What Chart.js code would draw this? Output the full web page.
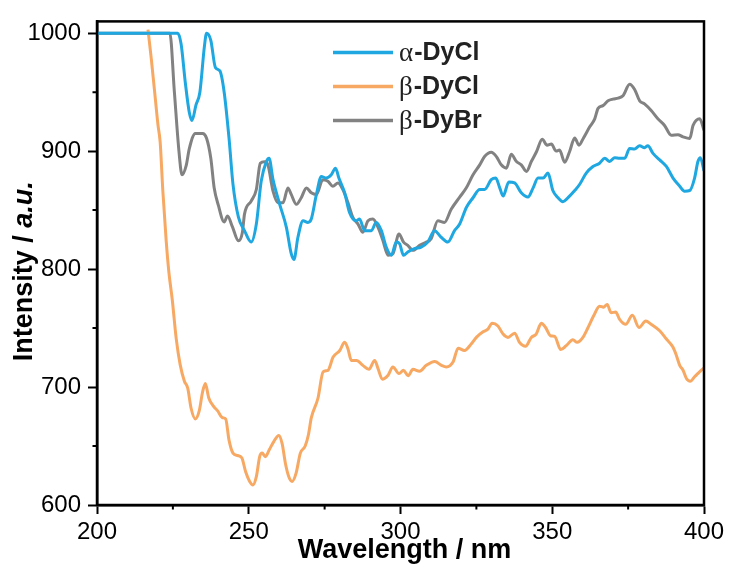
<!DOCTYPE html>
<html>
<head>
<meta charset="utf-8">
<script src="https://cdn.jsdelivr.net/npm/chart.js@4.4.0/dist/chart.umd.min.js"></script>
<style>
  html, body { margin: 0; padding: 0; background: #fff; }
  #wrap { width: 729px; height: 568px; }
</style>
</head>
<body>
<div id="wrap"><canvas id="uvChart" width="729" height="568"></canvas></div>
<script>
// tick values
const xMajorTicks = [200, 250, 300, 350, 400];
const xMinorTicks = [225, 275, 325, 375];
const yMajorTicks = [600, 700, 800, 900, 1000];
const yMinorTicks = [650, 750, 850, 950];

// alpha-DyCl
const alphaWl = [200, 226.6, 227.7, 229.1, 230.4, 231.3, 232.6, 233.9, 235.4, 236.1, 237.5, 239, 240.5, 241.9, 243.5, 244.8, 246.6,
  248.6, 250.8, 252.5, 254.1, 255.8, 256.7, 258, 260.2, 262.4, 264, 264.9, 266.2, 267.9, 269.5, 270.6, 272.3, 273.9, 275.5, 277.2,
  278.6, 279.7, 281.6, 283.2, 285.4, 286.5, 288.2, 290.4, 292, 293.7, 295.3, 297, 298.6, 299.7, 301, 302.4, 304.6, 306.8, 309,
  311.2, 313.4, 315.6, 317.8, 319.5, 321.7, 323.9, 326.1, 327.7, 329.9, 331.4, 332.7, 333.8, 335.7, 337.6, 339.8, 342, 343.7,
  345.3, 347, 348.6, 350.2, 351.9, 353.5, 355.7, 357.4, 359, 361.2, 363.4, 365.6, 367.3, 368.9, 370.6, 372.2, 373.9, 375.5,
  377.1, 378.8, 380.4, 381.5, 383.2, 385.4, 387.6, 389.8, 392, 393.6, 395.3, 396.9, 398, 398.8, 400];
const alphaI = [1000, 1000, 991, 958, 933, 926, 939, 950, 989, 1000, 994, 971, 968, 950, 911, 872, 844,
  832.6, 822.9, 838.2, 874.4, 891.1, 893.9, 875.8, 854.9, 835.4, 813.1, 808.1, 827, 841, 839.6, 842.4, 863.3, 878.6, 877.2, 880,
  885.6, 877.2, 864.7, 848, 841, 842.4, 832.6, 832.6, 839.6, 832.6, 818.7, 811.7, 822.9, 821.5, 811.7, 814.5, 817.3, 818.7, 822.9,
  832.6, 827, 822.9, 832.6, 838.2, 852.2, 860.5, 867.5, 867.5, 875.8, 877.2, 868.9, 861.9, 873.9, 873.1, 864.7, 861.1, 868.9,
  877.2, 877.2, 881.4, 866.6, 860.5, 857.2, 861.9, 866.6, 871.7, 881.4, 887, 889.8, 894, 891.2, 894.5, 894, 894, 902.3,
  901.8, 904.6, 902.9, 904.6, 898.1, 892.6, 887, 877.2, 870.3, 866.1, 866.6, 877.2, 891.2, 894.5, 883.4];

// beta-DyCl
const betaClWl = [216.8, 217.9, 219, 220.1, 220.8, 221.7, 222.8, 223.7, 224.8, 226.1, 227.4, 228.8, 229.9, 231, 232.4, 233.7,
  234.8, 235.7, 236.8, 238.3, 239.7, 241.4, 242.4, 243.5, 244.8, 246.3, 247.7, 249, 250.3, 251.4, 252.5, 253.6, 254.4, 255.5,
  256.8, 258.3, 259.9, 261, 262.1, 263.2, 264.3, 265.6, 267, 268.6, 269.7, 270.6, 272.8, 274.5, 276.1, 277.8, 280, 281.6,
  282.7, 283.8, 285.5, 287.6, 289.6, 291.5, 292.6, 294, 295.9, 297.5, 299.5, 301, 302.5, 304.1, 306.3, 308.5, 311.3, 313.5,
  315.1, 317.3, 319, 321.1, 323.3, 325, 327.2, 328.8, 330.2, 332.1, 333.8, 335.4, 337.6, 339.2, 341.2, 343.1, 344.7, 346.4,
  347.8, 349.4, 350.8, 352.8, 354.6, 356.8, 358.2, 360.1, 361.8, 363.6, 365.6, 366.9, 368.1, 369.4, 370.9, 372.2, 374.2,
  376.4, 378.6, 380.8, 382.6, 385.4, 387.6, 389.8, 390.9, 392, 393.1, 394.2, 395.5, 396.9, 398.3, 400];
const betaClI = [1003, 978, 950, 922, 908, 866, 824, 797, 774, 741, 719, 705, 699, 682, 673, 680,
  696, 703, 691, 684, 680, 674, 673, 655, 644, 642, 640, 628, 620, 617, 624, 641, 644, 641,
  647, 654, 659, 652, 635, 624, 620, 627, 644, 650, 660, 673.8, 690.5, 712.8, 714.2, 725.4, 731, 738,
  732.3, 722.6, 722.6, 718.4, 715, 722.6, 715.6, 706.7, 710, 717, 711.4, 714.2, 709.5, 715, 713.4, 718.4, 721.7, 718.4,
  717, 721.2, 732.9, 731, 736.5, 742.1, 746.8, 749.1, 754.1, 751.8, 744.9, 742.1, 745.7, 737.9, 734.6, 742.1, 744.9, 754.1,
  750.5, 743.5, 742.9, 731.8, 735.1, 740.1, 737.9, 742.1, 750.5, 760.2, 768.6, 767.7, 770, 763, 763.6, 757.4, 753.2,
  760.8, 750.5, 756, 753.2, 747.7, 740.7, 733.7, 726.8, 718.4, 714.2, 707.3, 705, 708.7, 712.3, 716.2];

// beta-DyBr
const betaBrWl = [200, 224, 225.5, 227, 228, 229.4, 230.4, 232.4, 234.8, 236.1, 237.5, 238.6, 240, 241.9, 243, 244.6, 246.6,
  247.9, 248.6, 250.8, 252.5, 253.8, 255.2, 256.3, 258, 259.6, 261.3, 262.9, 264, 265.7, 267.3, 269, 270.6, 272.3, 274.4,
  276.1, 277.7, 279.4, 281, 282.7, 284.3, 286, 287.6, 289.3, 290.9, 292.6, 294.2, 295.9, 297.5, 299.5, 301, 302.4, 304.1,
  306.3, 308.5, 310.1, 312.3, 314.5, 316.7, 319.5, 321.7, 323.9, 326.1, 327.7, 329.9, 331.6, 333.2, 334.9, 336.5, 338.2,
  339.8, 341.5, 343.1, 344.8, 346.7, 348.3, 349.7, 351.3, 352.4, 354.1, 355.7, 357.4, 358.8, 360.3, 362.3, 364, 365.1,
  366.7, 368.4, 370, 371.7, 373.3, 375.5, 377.1, 378.8, 380.4, 382.6, 384.8, 387, 389.2, 391.4, 393.1, 395.3, 396.4,
  398.6, 400];
const betaBrI = [1000, 1000, 950, 900, 880, 888, 902, 915, 915, 911, 894, 869, 854, 840, 845, 836, 824,
  831, 846.6, 857.7, 867.5, 889.7, 891.1, 888.4, 866.1, 856.3, 856.3, 868.8, 863.3, 854.9, 860.5, 868.8, 864.7, 863.3, 875.8,
  874.4, 870.2, 873, 867.5, 856.3, 843.8, 838.2, 831.2, 841, 842.4, 835.4, 824.3, 811.7, 813.1, 829.8, 822.9, 820.1, 815.9,
  820.1, 822.9, 825.7, 841, 839.6, 850.7, 861, 868.9, 880, 888.4, 895.4, 899, 895.4, 888.4, 885.6, 897.3, 891.2,
  888.4, 882.8, 891.2, 899.5, 910.1, 905.1, 906, 900.1, 900.9, 890.6, 899.5, 911.2, 905.1, 911.2, 920.4, 927.4, 936.3,
  938.6, 942.7, 944.1, 945, 946.9, 956.7, 952.5, 942.7, 940, 934.4, 927.4, 921.8, 913.5, 914, 912.1, 910.7, 921.8,
  927.4, 917.7];

const seriesNames = ['α-DyCl', 'β-DyCl', 'β-DyBr'];
const seriesColors = ['#1ea7e0', '#f7a862', '#828282'];

function toPoints(xs, ys) {
  return xs.map((x, i) => ({ x: x, y: ys[i] }));
}

const tickFont = { family: '"Liberation Sans", Arial, sans-serif', size: 24 };

// frame, minor ticks, axis titles and legend
const decorPlugin = {
  id: 'decor',
  afterDraw(chart) {
    const ctx = chart.ctx;
    const area = chart.chartArea;
    const xs = chart.scales.x;
    const ys = chart.scales.y;
    ctx.save();
    ctx.strokeStyle = '#000';
    ctx.lineWidth = 2.5;
    ctx.strokeRect(area.left, area.top, area.right - area.left, area.bottom - area.top);

    ctx.lineWidth = 2;
    ctx.beginPath();
    xMinorTicks.forEach(v => {
      const px = xs.getPixelForValue(v);
      ctx.moveTo(px, area.bottom);
      ctx.lineTo(px, area.bottom + 4.5);
    });
    yMinorTicks.forEach(v => {
      const py = ys.getPixelForValue(v);
      ctx.moveTo(area.left, py);
      ctx.lineTo(area.left - 4.5, py);
    });
    ctx.stroke();

    // x title
    ctx.fillStyle = '#000';
    ctx.font = 'bold 27px "Liberation Sans", Arial, sans-serif';
    ctx.textAlign = 'center';
    ctx.textBaseline = 'alphabetic';
    ctx.fillText('Wavelength / nm', (area.left + area.right) / 2 + 4, 558);

    // y title
    ctx.save();
    ctx.translate(32, (area.top + area.bottom) / 2 + 8);
    ctx.rotate(-Math.PI / 2);
    ctx.textAlign = 'left';
    const partA = 'Intensity / ';
    const partB = 'a.u.';
    ctx.font = 'bold 27px "Liberation Sans", Arial, sans-serif';
    const wA = ctx.measureText(partA).width;
    ctx.font = 'italic bold 27px "Liberation Sans", Arial, sans-serif';
    const wB = ctx.measureText(partB).width;
    const start = -(wA + wB) / 2;
    ctx.font = 'bold 27px "Liberation Sans", Arial, sans-serif';
    ctx.fillText(partA, start, 0);
    ctx.font = 'italic bold 27px "Liberation Sans", Arial, sans-serif';
    ctx.fillText(partB, start + wA, 0);
    ctx.restore();

    // legend
    chart.data.datasets.forEach((ds, i) => {
      const y = 52.5 + i * 34;
      ctx.strokeStyle = ds.borderColor;
      ctx.lineWidth = 3.5;
      ctx.beginPath();
      ctx.moveTo(333, y);
      ctx.lineTo(393, y);
      ctx.stroke();
      ctx.fillStyle = '#222';
      ctx.textAlign = 'left';
      ctx.textBaseline = 'middle';
      const greek = ds.label.charAt(0);
      const rest = ds.label.slice(1);
      ctx.font = '27px "Liberation Serif", "Times New Roman", serif';
      ctx.fillText(greek, 399, y + 1);
      const gw = ctx.measureText(greek).width;
      ctx.font = 'bold 25px "Liberation Sans", Arial, sans-serif';
      ctx.fillText(rest, 399 + gw + 1, y + 1);
    });
    ctx.restore();
  }
};

const ctx = document.getElementById('uvChart').getContext('2d');
new Chart(ctx, {
  type: 'line',
  data: {
    datasets: [
      { label: seriesNames[0], data: toPoints(alphaWl, alphaI), borderColor: seriesColors[0] },
      { label: seriesNames[1], data: toPoints(betaClWl, betaClI), borderColor: seriesColors[1] },
      { label: seriesNames[2], data: toPoints(betaBrWl, betaBrI), borderColor: seriesColors[2] }
    ]
  },
  options: {
    responsive: false,
    animation: false,
    devicePixelRatio: 1,
    layout: { padding: { left: 0, top: 15, right: 25, bottom: 0 } },
    elements: {
      line: { borderWidth: 3, cubicInterpolationMode: 'monotone', fill: false },
      point: { radius: 0 }
    },
    plugins: {
      legend: { display: false },
      tooltip: { enabled: false }
    },
    scales: {
      x: {
        type: 'linear',
        min: 200,
        max: 400,
        afterBuildTicks: s => { s.ticks = xMajorTicks.map(v => ({ value: v })); },
        afterFit: s => { s.height = 63; },
        ticks: { font: tickFont, color: '#000', padding: 4, maxRotation: 0, autoSkip: false, callback: v => String(v) },
        grid: { drawOnChartArea: false, tickLength: 9, tickWidth: 2, tickColor: '#000' },
        border: { color: '#000', width: 2.5 }
      },
      y: {
        type: 'linear',
        min: 600,
        max: 1010,
        afterBuildTicks: s => { s.ticks = yMajorTicks.map(v => ({ value: v })); },
        afterFit: s => { s.width = 97; },
        ticks: { font: tickFont, color: '#000', padding: 7, autoSkip: false, callback: v => String(v) },
        grid: { drawOnChartArea: false, tickLength: 9, tickWidth: 2, tickColor: '#000' },
        border: { color: '#000', width: 2.5 }
      }
    }
  },
  plugins: [decorPlugin]
});
</script>
</body>
</html>
